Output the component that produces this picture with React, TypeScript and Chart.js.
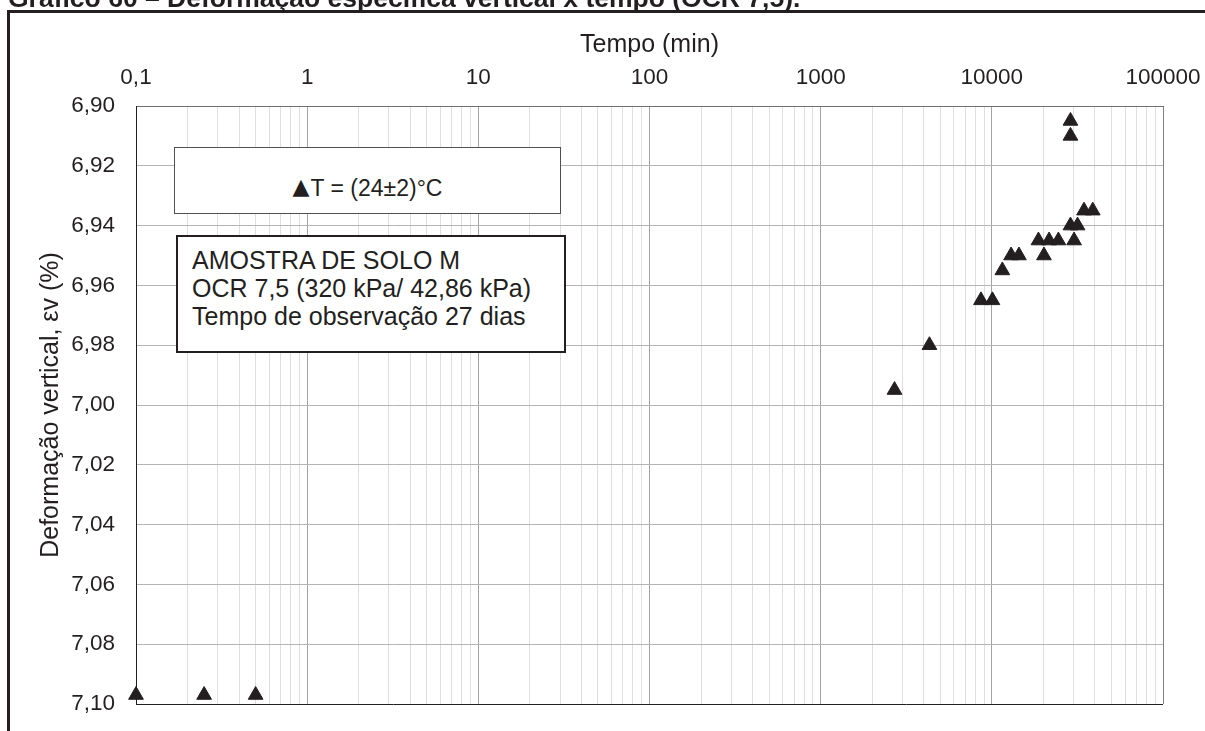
import React, { useEffect, useRef } from 'react';
import { Chart, registerables } from 'chart.js';

Chart.register(...registerables);

// ---- data ----
const TEMPO_MIN = [
  0.1, 0.25, 0.5, 2700, 4320, 8640, 10080, 11520, 12960, 14400,
  18720, 20160, 21600, 24480, 28800, 28800, 28800, 30240, 31680, 34560, 38880,
];
const DEFORMACAO = [
  7.097, 7.097, 7.097, 6.995, 6.98, 6.965, 6.965, 6.955, 6.95, 6.95,
  6.945, 6.95, 6.945, 6.945, 6.905, 6.91, 6.94, 6.945, 6.94, 6.935, 6.935,
];

const X_MAJOR_TICKS = [0.1, 1, 10, 100, 1000, 10000, 100000];
const X_TICK_LABELS = ['0,1', '1', '10', '100', '1000', '10000', '100000'];
const X_MINOR_MULTIPLIERS = [1, 2, 3, 4, 5, 6, 7, 8, 9];
const Y_TICKS = [6.9, 6.92, 6.94, 6.96, 6.98, 7.0, 7.02, 7.04, 7.06, 7.08, 7.1];
const Y_TICK_LABELS = ['6,90', '6,92', '6,94', '6,96', '6,98', '7,00', '7,02', '7,04', '7,06', '7,08', '7,10'];

const TITLE = 'Gráfico 60 – Deformação específica vertical x tempo (OCR 7,5).';
const X_TITLE = 'Tempo (min)';
const Y_TITLE = 'Deformação vertical, εv (%)';
const SERIES_LABEL = 'T = (24±2)°C';
const NOTE_LINES = ['AMOSTRA DE SOLO M', 'OCR 7,5 (320 kPa/ 42,86 kPa)', 'Tempo de observação 27 dias'];

const FONT = "'Liberation Sans', Arial, Helvetica, sans-serif";
const INK = '#231f20';

const X_GRID_VALUES = X_MAJOR_TICKS.slice(0, -1)
  .flatMap((d) => X_MINOR_MULTIPLIERS.map((k) => Number((d * k).toPrecision(4))))
  .concat([X_MAJOR_TICKS[X_MAJOR_TICKS.length - 1]]);

const near = (a: number, b: number) => Math.abs(a - b) <= Math.abs(b) * 1e-6 + 1e-9;
const majorIndex = (v: number) => X_MAJOR_TICKS.findIndex((m) => near(v, m));

export default function App() {
  const canvasRef = useRef<HTMLCanvasElement | null>(null);

  useEffect(() => {
    const canvas = canvasRef.current;
    if (!canvas) return;
    const chart = new Chart(canvas, {
      type: 'scatter',
      data: {
        datasets: [
          {
            label: SERIES_LABEL,
            data: TEMPO_MIN.map((x, i) => ({ x, y: DEFORMACAO[i] })),
            pointStyle: 'triangle',
            pointRadius: 8.5,
            pointHoverRadius: 8.5,
            backgroundColor: INK,
            borderColor: INK,
            pointBorderWidth: 1,
            clip: false,
          },
        ],
      },
      options: {
        responsive: false,
        animation: false,
        devicePixelRatio: 1,
        layout: { padding: { left: 0, top: 0, right: 42, bottom: 27 } },
        plugins: {
          legend: { display: false },
          tooltip: { enabled: false },
        },
        scales: {
          x: {
            type: 'logarithmic',
            position: 'top',
            min: 0.1,
            max: 100000,
            afterBuildTicks: (scale: any) => {
              scale.ticks = X_GRID_VALUES.map((v) => ({ value: v, major: false }));
            },
            afterFit: (scale: any) => {
              scale.height = 106;
              scale.paddingLeft = 0;
              scale.paddingRight = 0;
            },
            ticks: {
              autoSkip: false,
              maxRotation: 0,
              minRotation: 0,
              padding: 15,
              color: INK,
              font: { family: FONT, size: 22.5 },
              callback: (value: any) => {
                const i = majorIndex(Number(value));
                return i >= 0 ? X_TICK_LABELS[i] : '';
              },
            },
            grid: {
              drawTicks: false,
              lineWidth: 1,
              color: (ctx: any) => {
                const v = ctx.tick ? ctx.tick.value : NaN;
                if (near(v, X_MAJOR_TICKS[0])) return INK;
                if (near(v, X_MAJOR_TICKS[X_MAJOR_TICKS.length - 1])) return '#7f7f7f';
                if (majorIndex(v) >= 0) return '#a3a3a3';
                return '#dedede';
              },
            },
            border: { display: true, color: '#6f6f6f', width: 1 },
            title: {
              display: true,
              text: X_TITLE,
              color: INK,
              font: { family: FONT, size: 25 },
              padding: { top: 30, bottom: 0 },
            },
          },
          y: {
            type: 'linear',
            position: 'left',
            reverse: true,
            min: 6.9,
            max: 7.1,
            afterBuildTicks: (scale: any) => {
              scale.ticks = Y_TICKS.map((v) => ({ value: v }));
            },
            afterFit: (scale: any) => {
              scale.width = 136;
              scale.paddingTop = 0;
              scale.paddingBottom = 0;
            },
            ticks: {
              autoSkip: false,
              padding: 21,
              color: INK,
              font: { family: FONT, size: 22.5 },
              callback: (_v: any, i: number) => Y_TICK_LABELS[i],
            },
            grid: {
              drawTicks: false,
              lineWidth: 1,
              color: (ctx: any) => {
                const v = ctx.tick ? ctx.tick.value : NaN;
                if (near(v, Y_TICKS[Y_TICKS.length - 1])) return INK;
                if (near(v, Y_TICKS[0])) return '#6f6f6f';
                return '#b5b5b5';
              },
            },
            border: { display: true, color: INK, width: 1 },
            title: {
              display: true,
              text: Y_TITLE,
              color: INK,
              font: { family: FONT, size: 25 },
              padding: { top: 36, bottom: 0 },
            },
          },
        },
      } as any,
    });
    return () => chart.destroy();
  }, []);

  return (
    <div
      style={{
        position: 'fixed',
        left: 0,
        top: 0,
        width: 1205,
        height: 731,
        overflow: 'hidden',
        background: '#ffffff',
      }}
    >
      <canvas
        ref={canvasRef}
        width={1205}
        height={731}
        style={{ position: 'absolute', left: 0, top: 0, width: 1205, height: 731, display: 'block' }}
      />
      <div
        style={{
          position: 'absolute',
          left: 7,
          top: 10,
          width: 1210,
          height: 740,
          borderTop: `3px solid ${INK}`,
          borderLeft: `3px solid ${INK}`,
          boxSizing: 'border-box',
          pointerEvents: 'none',
        }}
      />
      <div
        style={{
          position: 'absolute',
          left: 8,
          top: -17,
          fontFamily: FONT,
          fontWeight: 'bold',
          fontSize: 26.5,
          lineHeight: '30px',
          color: INK,
          whiteSpace: 'nowrap',
        }}
      >
        {TITLE}
      </div>
      <div
        style={{
          position: 'absolute',
          left: 174,
          top: 147,
          width: 387,
          height: 67,
          boxSizing: 'border-box',
          border: '1px solid #505050',
          background: '#ffffff',
          paddingTop: 27,
          textAlign: 'center',
          fontFamily: FONT,
          fontSize: 23,
          lineHeight: '27px',
          color: INK,
          whiteSpace: 'nowrap',
        }}
      >
        <span
          style={{
            fontFamily: "'DejaVu Sans', sans-serif",
            fontSize: 22,
            position: 'relative',
            top: -2,
            marginRight: 1,
          }}
        >
          ▲
        </span>
        {SERIES_LABEL}
      </div>
      <div
        style={{
          position: 'absolute',
          left: 176,
          top: 235,
          width: 390,
          height: 118,
          boxSizing: 'border-box',
          border: `2px solid ${INK}`,
          background: '#ffffff',
          padding: '9px 0 0 14px',
          fontFamily: FONT,
          fontSize: 25,
          lineHeight: '28px',
          color: INK,
          whiteSpace: 'nowrap',
        }}
      >
        {NOTE_LINES.map((t, i) => (
          <div key={i}>{t}</div>
        ))}
      </div>
    </div>
  );
}
